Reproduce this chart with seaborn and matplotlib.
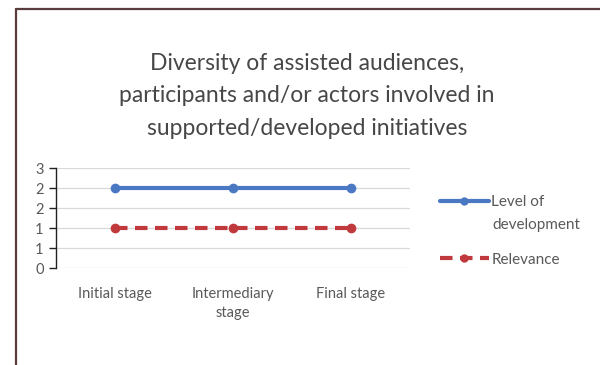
import numpy as np
import pandas as pd
import matplotlib
matplotlib.use("Agg")
import matplotlib.pyplot as plt
from matplotlib.lines import Line2D
from matplotlib.ticker import FuncFormatter, MultipleLocator
import seaborn as sns

stages = ["Initial stage", "Intermediary\nstage", "Final stage"]
level_of_development = [2, 2, 2]
relevance = [1, 1, 1]
series_names = ["Level of development", "Relevance"]
title = "Diversity of assisted audiences,\nparticipants and/or actors involved in\nsupported/developed initiatives"

sns.set_theme(style="white")
plt.rcParams["font.family"] = ["Lato", "DejaVu Sans"]

text_gray = "#595959"
title_gray = "#474747"
blue = "#4a78c2"
red = "#c0393d"
dash = (0, (3.0, 1.8))

df = pd.DataFrame({
    "x": list(range(len(stages))) * 2,
    "value": level_of_development + relevance,
    "series": [series_names[0]] * len(stages) + [series_names[1]] * len(stages),
})

fig = plt.figure(figsize=(6.0, 3.65), dpi=100)
ax = fig.add_axes([56 / 600, 1 - 268 / 365, (410 - 56) / 600, 100 / 365])

styles = [dict(color=blue, ls="-"), dict(color=red, ls=dash)]
for name, st in zip(series_names, styles):
    sub = df[df["series"] == name]
    sns.lineplot(data=sub, x="x", y="value", ax=ax, color=st["color"],
                 linestyle=st["ls"], linewidth=3.0, marker="o", markersize=7,
                 markeredgewidth=0, legend=False)

ax.set_xlim(-0.5, len(stages) - 0.5)
ax.set_ylim(0, 2.5)
ax.yaxis.set_major_locator(MultipleLocator(0.5))
ax.yaxis.set_major_formatter(FuncFormatter(lambda v, p: f"{int(np.floor(v + 0.5 + 1e-9))}"))
ax.set_xticks(range(len(stages)))
ax.set_xticklabels(stages)
ax.set_xlabel("")
ax.set_ylabel("")
ax.grid(axis="y", color="#d9d9d9", linewidth=0.9)
ax.set_axisbelow(True)
for s in ["top", "right", "bottom"]:
    ax.spines[s].set_visible(False)
ax.spines["left"].set_color("#222222")
ax.spines["left"].set_linewidth(1.0)
ax.tick_params(axis="y", which="major", left=True, length=5, width=1.0,
               color="#222222", labelsize=10.5, labelcolor=text_gray, pad=4)
ax.tick_params(axis="x", which="major", bottom=False, labelsize=10.5,
               labelcolor=text_gray, pad=8)
for lbl in ax.get_xticklabels():
    lbl.set_linespacing(1.45)

fig.text(307 / 600, 1 - 96 / 365, title, ha="center", va="center",
         fontsize=16.5, color=title_gray, linespacing=1.65)

handles = [
    Line2D([], [], color=blue, ls="-", lw=3.0, marker="o", markersize=6, markeredgewidth=0),
    Line2D([], [], color=red, ls=dash, lw=3.0, marker="o", markersize=6, markeredgewidth=0),
]
leg = fig.legend(handles, ["Level of", series_names[1]], loc="upper left",
                 bbox_to_anchor=(440 / 600, 1 - 195 / 365),
                 frameon=False, fontsize=11, labelcolor=text_gray, handlelength=3.2,
                 handletextpad=0.15, labelspacing=2.85, borderaxespad=0, borderpad=0)
# second line of the first legend label
fig.text(492 / 600, 1 - 225 / 365, "development", ha="left", va="center",
         fontsize=11, color=text_gray)

# outer frame along the top and left edges
border = "#5a3c3e"
fig.add_artist(Line2D([16 / 600, 1.0], [1 - 9 / 365, 1 - 9 / 365], transform=fig.transFigure,
                      color=border, lw=1.6))
fig.add_artist(Line2D([16 / 600, 16 / 600], [0, 1 - 9 / 365], transform=fig.transFigure,
                      color=border, lw=1.6))

fig.savefig("out.png", dpi=100)
